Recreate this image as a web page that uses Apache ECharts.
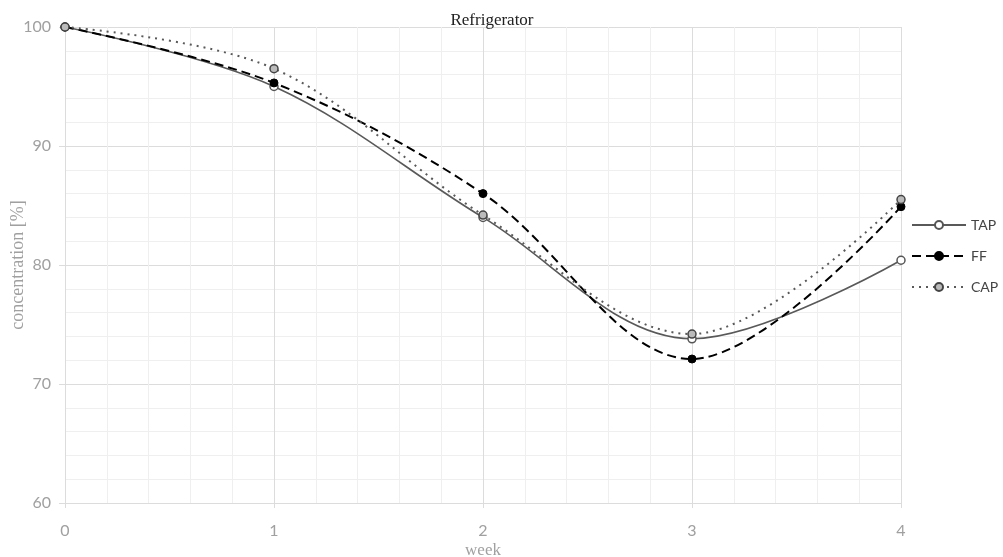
<!DOCTYPE html>
<html><head><meta charset="utf-8">
<script src="https://cdn.jsdelivr.net/npm/echarts@6/dist/echarts.min.js"></script>
<style>html,body{margin:0;padding:0;background:#fff}#c{width:1003px;height:557px}</style>
</head><body><div id="c"></div>
<script>
const weeks = [0, 1, 2, 3, 4];
const TAP = [100, 95.0, 84.0, 73.8, 80.4];
const FF  = [100, 95.3, 86.0, 72.1, 84.9];
const CAP = [100, 96.5, 84.2, 74.2, 85.5];
const seriesNames = ['TAP', 'FF', 'CAP'];

const pairs = arr => weeks.map((w, i) => [w, arr[i]]);
const chart = echarts.init(document.getElementById('c'), null, {renderer: 'canvas'});
const gridColor = '#dcdcdc', minorColor = '#efefef', labelColor = '#a0a0a0';
chart.setOption({
  animation: false,
  backgroundColor: '#fff',
  title: {text: 'Refrigerator', left: 487, top: 7, textAlign: 'center',
    textStyle: {fontFamily: 'Liberation Serif', fontSize: 17, fontWeight: 'normal', color: '#222'}},
  grid: {left: 65, right: 102, top: 27, bottom: 54, outerBoundsMode: 'none'},
  legend: {orient: 'vertical', left: 906, top: 213, itemGap: 17, itemWidth: 54, itemHeight: 10, itemStyle: {},
    data: seriesNames,
    textStyle: {fontFamily: 'Lato', fontSize: 14, color: '#444'}},
  xAxis: {type: 'value', min: 0, max: 4, interval: 1,
    name: 'week', nameLocation: 'middle', nameGap: 39, nameMoveOverlap: false,
    nameTextStyle: {fontFamily: 'Liberation Serif', fontSize: 17, color: labelColor},
    axisLine: {show: true, lineStyle: {color: gridColor}},
    axisTick: {show: true, length: 5, lineStyle: {color: gridColor}},
    axisLabel: {fontFamily: 'Lato', fontSize: 16, color: labelColor, margin: 20},
    splitLine: {show: true, lineStyle: {color: gridColor}},
    minorTick: {show: false, splitNumber: 5},
    minorSplitLine: {show: true, lineStyle: {color: minorColor}}},
  yAxis: {type: 'value', min: 60, max: 100, interval: 10,
    name: 'concentration [%]', nameLocation: 'middle', nameGap: 38, nameMoveOverlap: false,
    nameTextStyle: {fontFamily: 'Liberation Serif', fontSize: 18, color: labelColor},
    axisLine: {show: true, lineStyle: {color: gridColor}},
    axisTick: {show: true, length: 6, lineStyle: {color: gridColor}},
    axisLabel: {fontFamily: 'Lato', fontSize: 16, color: labelColor, margin: 14},
    splitLine: {show: true, lineStyle: {color: gridColor}},
    minorTick: {show: false, splitNumber: 5},
    minorSplitLine: {show: true, lineStyle: {color: minorColor}}},
  series: [
    {name: 'TAP', type: 'line', data: pairs(TAP), smooth: 0.35, symbol: 'circle', symbolSize: 8,
      lineStyle: {color: '#595959', width: 1.6, type: 'solid'},
      itemStyle: {color: '#fff', borderColor: '#555', borderWidth: 1.5}, z: 3},
    {name: 'FF', type: 'line', data: pairs(FF), smooth: 0.35, symbol: 'circle', symbolSize: 8,
      lineStyle: {color: '#000', width: 2, type: [9, 5]},
      itemStyle: {color: '#000', borderColor: '#000', borderWidth: 1}, z: 4},
    {name: 'CAP', type: 'line', data: pairs(CAP), smooth: 0.35, symbol: 'circle', symbolSize: 8,
      lineStyle: {color: '#595959', width: 2, type: [2, 5]},
      itemStyle: {color: '#bbb', borderColor: '#444', borderWidth: 1.5}, z: 5}
  ]
});
</script></body></html>
